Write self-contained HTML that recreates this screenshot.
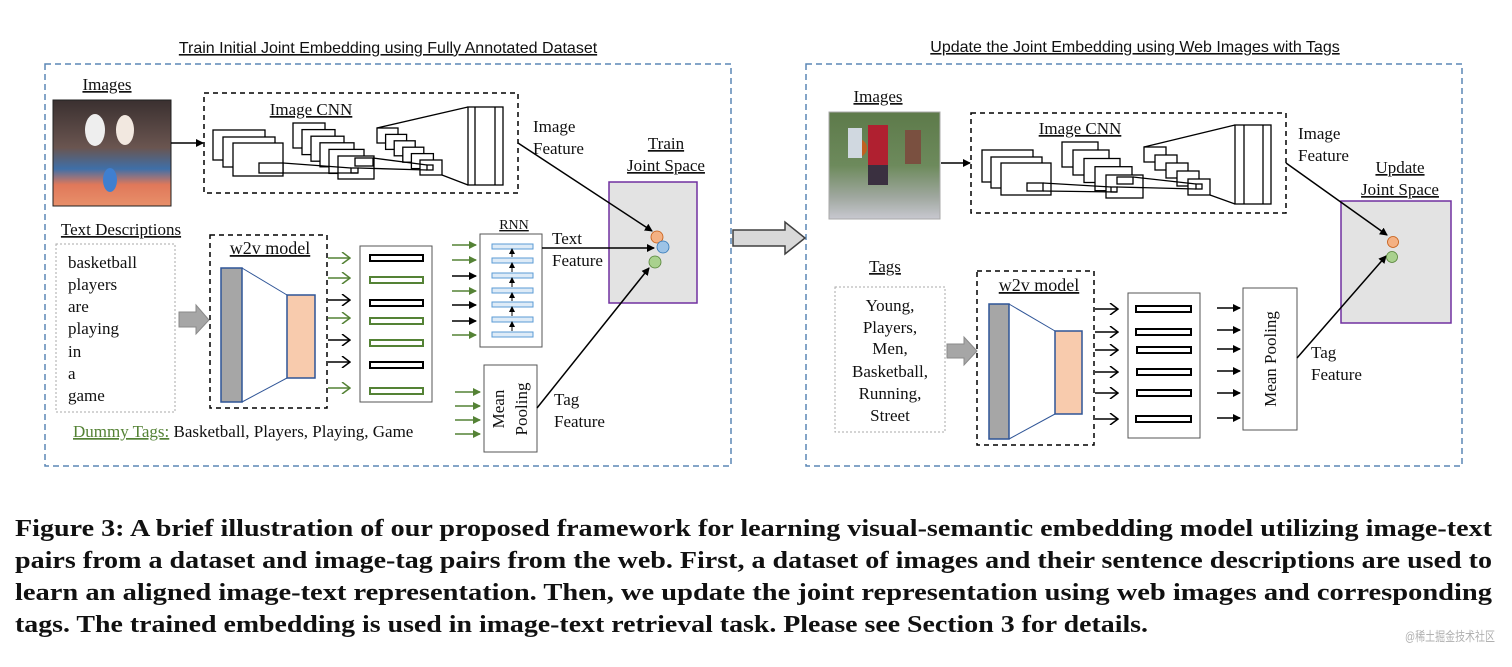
<!DOCTYPE html>
<html><head><meta charset="utf-8"><style>
html,body{margin:0;padding:0;background:#fff;}
svg{display:block}
.s{font-family:"Liberation Serif",serif;fill:#111}
.a{font-family:"Liberation Sans",sans-serif;fill:#111}
</style></head><body>
<svg width="1512" height="667" viewBox="0 0 1512 667" xmlns="http://www.w3.org/2000/svg">
<defs>
<marker id="ab" markerWidth="8" markerHeight="8" refX="7" refY="4" orient="auto" markerUnits="userSpaceOnUse"><path d="M0,0 L8,4 L0,8 z" fill="#000"/></marker>
<marker id="ag" markerWidth="8" markerHeight="8" refX="7" refY="4" orient="auto" markerUnits="userSpaceOnUse"><path d="M0,0 L8,4 L0,8 z" fill="#548235"/></marker>
<marker id="ob" markerWidth="10" markerHeight="12" refX="9" refY="6" orient="auto" markerUnits="userSpaceOnUse"><path d="M1,0 L9,6 L1,12" fill="none" stroke="#000" stroke-width="1.5"/></marker>
<marker id="og" markerWidth="10" markerHeight="12" refX="9" refY="6" orient="auto" markerUnits="userSpaceOnUse"><path d="M1,0 L9,6 L1,12" fill="none" stroke="#548235" stroke-width="1.5"/></marker>
<marker id="sm" markerWidth="6" markerHeight="6" refX="3" refY="3" orient="auto" markerUnits="userSpaceOnUse"><path d="M0,0 L6,3 L0,6 z" fill="#000"/></marker>
<linearGradient id="p1" x1="0" y1="0" x2="0" y2="1"><stop offset="0" stop-color="#3a3030"/><stop offset="0.45" stop-color="#6a5550"/><stop offset="0.65" stop-color="#3f6fa8"/><stop offset="0.8" stop-color="#e0785a"/><stop offset="1" stop-color="#e8906a"/></linearGradient>
<linearGradient id="p2" x1="0" y1="0" x2="0" y2="1"><stop offset="0" stop-color="#5d7a4a"/><stop offset="0.5" stop-color="#6d8a5c"/><stop offset="0.8" stop-color="#a0a8a0"/><stop offset="1" stop-color="#c8c8d0"/></linearGradient>
</defs>

<text class="a" x="388" y="53" font-size="16" text-anchor="middle" text-decoration="underline">Train Initial Joint Embedding using Fully Annotated Dataset</text>
<text class="a" x="1135" y="52" font-size="16" text-anchor="middle" text-decoration="underline">Update the Joint Embedding using Web Images with Tags</text>

<rect x="45" y="64" width="686" height="402" fill="none" stroke="#5b87b5" stroke-width="1.5" stroke-dasharray="6,4"/>
<rect x="806" y="64" width="656" height="402" fill="none" stroke="#5b87b5" stroke-width="1.5" stroke-dasharray="6,4"/>

<!-- joint boxes first so arrows draw over -->
<rect x="609" y="182" width="88" height="121" fill="#e3e3e3" stroke="#7030a0" stroke-width="1.5"/>
<rect x="1341" y="201" width="110" height="122" fill="#e3e3e3" stroke="#7030a0" stroke-width="1.5"/>

<!-- LEFT -->
<text class="s" x="107" y="90" font-size="17" text-anchor="middle" text-decoration="underline">Images</text>
<rect x="53" y="100" width="118" height="106" fill="url(#p1)" stroke="#222"/>
<ellipse cx="95" cy="130" rx="10" ry="16" fill="#eee"/><ellipse cx="125" cy="130" rx="9" ry="15" fill="#f2e8e0"/><ellipse cx="110" cy="180" rx="7" ry="12" fill="#3f7fd0"/>
<line x1="171" y1="143" x2="203" y2="143" stroke="#000" stroke-width="1.5" marker-end="url(#ab)"/>
<rect x="204" y="93" width="314" height="100" fill="none" stroke="#000" stroke-width="1.5" stroke-dasharray="5,4"/>
<text class="s" x="311" y="115" font-size="17" text-anchor="middle" text-decoration="underline">Image CNN</text>
<g fill="#fff" stroke="#000" stroke-width="1.3">
<rect x="213" y="130" width="52" height="30"/><rect x="223" y="137" width="52" height="30"/><rect x="233" y="143" width="50" height="33"/>
<rect x="259" y="163" width="24" height="10"/>
<rect x="293" y="123" width="32" height="25"/><rect x="302" y="129.6" width="33" height="25"/><rect x="311" y="136.2" width="33" height="25"/><rect x="320" y="142.8" width="34" height="24"/><rect x="329" y="149.4" width="35" height="24"/><rect x="338" y="156" width="36" height="23"/>
<rect x="355" y="158" width="18" height="8"/><rect x="351" y="168" width="7" height="5"/>
<rect x="377" y="128" width="21" height="15"/><rect x="385.6" y="134.4" width="21" height="15"/><rect x="394.2" y="140.8" width="21" height="15"/><rect x="402.8" y="147.2" width="21" height="15"/><rect x="411.4" y="153.6" width="22" height="15"/><rect x="420" y="160" width="22" height="15"/>
<rect x="427" y="165" width="6" height="5"/>
<rect x="468" y="107" width="35" height="78"/>
</g>
<g stroke="#000" stroke-width="1.3"><line x1="475" y1="107" x2="475" y2="185"/><line x1="495" y1="107" x2="495" y2="185"/>
<line x1="283" y1="163" x2="351" y2="168"/><line x1="283" y1="173" x2="358" y2="173"/>
<line x1="373" y1="158" x2="427" y2="165"/><line x1="358" y1="168" x2="427" y2="170"/>
<line x1="377" y1="128" x2="468" y2="107"/><line x1="442" y1="175" x2="468" y2="185"/></g>
<text class="s" x="533" y="132" font-size="17">Image</text><text class="s" x="533" y="154" font-size="17">Feature</text>
<line x1="518" y1="143" x2="652" y2="231" stroke="#000" stroke-width="1.5" marker-end="url(#ab)"/>
<text class="s" x="666" y="149" font-size="17" text-anchor="middle" text-decoration="underline">Train</text>
<text class="s" x="666" y="171" font-size="17" text-anchor="middle" text-decoration="underline">Joint Space</text>

<text class="s" x="121" y="235" font-size="17" text-anchor="middle" text-decoration="underline">Text Descriptions</text>
<rect x="56" y="244" width="119" height="168" fill="#fff" stroke="#aaa" stroke-dasharray="2,2"/>
<g class="s" font-size="17"><text x="68" y="268">basketball</text><text x="68" y="290">players</text><text x="68" y="312">are</text><text x="68" y="334">playing</text><text x="68" y="357">in</text><text x="68" y="379">a</text><text x="68" y="401">game</text></g>
<path d="M179,312 L196,312 L196,305 L209,320 L196,334 L196,327 L179,327 z" fill="#a6a6a6" stroke="#8a8a8a"/>
<rect x="210" y="235" width="117" height="173" fill="none" stroke="#000" stroke-width="1.5" stroke-dasharray="5,4"/>
<text class="s" x="270" y="254" font-size="18" text-anchor="middle" text-decoration="underline">w2v model</text>
<line x1="242" y1="268" x2="287" y2="295" stroke="#2f5597"/><line x1="242" y1="402" x2="287" y2="378" stroke="#2f5597"/>
<rect x="221" y="268" width="21" height="134" fill="#a6a6a6" stroke="#2f5597" stroke-width="1.5"/>
<rect x="287" y="295" width="28" height="83" fill="#f8cbad" stroke="#2f5597" stroke-width="1.5"/>
<g stroke-width="1.5">
<line x1="328" y1="258" x2="350" y2="258" stroke="#548235" marker-end="url(#og)"/>
<line x1="328" y1="278" x2="350" y2="278" stroke="#548235" marker-end="url(#og)"/>
<line x1="328" y1="300" x2="350" y2="300" stroke="#000" marker-end="url(#ob)"/>
<line x1="328" y1="318" x2="350" y2="318" stroke="#548235" marker-end="url(#og)"/>
<line x1="328" y1="340" x2="350" y2="340" stroke="#000" marker-end="url(#ob)"/>
<line x1="328" y1="362" x2="350" y2="362" stroke="#000" marker-end="url(#ob)"/>
<line x1="328" y1="388" x2="350" y2="388" stroke="#548235" marker-end="url(#og)"/>
</g>
<rect x="360" y="246" width="72" height="156" fill="#fff" stroke="#555"/>
<g fill="none" stroke-width="2">
<rect x="370" y="255" width="53" height="6" stroke="#000"/><rect x="370" y="277" width="53" height="6" stroke="#548235"/><rect x="370" y="300" width="53" height="6" stroke="#000"/><rect x="370" y="318" width="53" height="6" stroke="#548235"/><rect x="370" y="340" width="53" height="6" stroke="#548235"/><rect x="370" y="362" width="53" height="6" stroke="#000"/><rect x="370" y="388" width="53" height="6" stroke="#548235"/>
</g>
<text class="s" x="514" y="229" font-size="14" text-anchor="middle" text-decoration="underline">RNN</text>
<g stroke-width="1.5">
<line x1="452" y1="245" x2="476" y2="245" stroke="#548235" marker-end="url(#ag)"/>
<line x1="452" y1="260" x2="476" y2="260" stroke="#548235" marker-end="url(#ag)"/>
<line x1="452" y1="276" x2="476" y2="276" stroke="#000" marker-end="url(#ab)"/>
<line x1="452" y1="291" x2="476" y2="291" stroke="#548235" marker-end="url(#ag)"/>
<line x1="452" y1="305" x2="476" y2="305" stroke="#000" marker-end="url(#ab)"/>
<line x1="452" y1="321" x2="476" y2="321" stroke="#000" marker-end="url(#ab)"/>
<line x1="452" y1="335" x2="476" y2="335" stroke="#548235" marker-end="url(#ag)"/>
</g>
<rect x="480" y="234" width="62" height="113" fill="#fff" stroke="#555"/>
<g fill="#deebf7" stroke="#5b9bd5">
<rect x="492" y="244" width="41" height="5"/><rect x="492" y="258" width="41" height="5"/><rect x="492" y="273" width="41" height="5"/><rect x="492" y="288" width="41" height="5"/><rect x="492" y="302" width="41" height="5"/><rect x="492" y="317" width="41" height="5"/><rect x="492" y="332" width="41" height="5"/>
</g>
<g stroke="#000" stroke-width="1" marker-end="url(#sm)">
<line x1="512" y1="257" x2="512" y2="251"/><line x1="512" y1="272" x2="512" y2="265"/><line x1="512" y1="287" x2="512" y2="280"/><line x1="512" y1="301" x2="512" y2="295"/><line x1="512" y1="316" x2="512" y2="309"/><line x1="512" y1="331" x2="512" y2="324"/>
</g>
<line x1="542" y1="248" x2="654" y2="248" stroke="#000" stroke-width="1.5" marker-end="url(#ab)"/>
<text class="s" x="552" y="244" font-size="17">Text</text><text class="s" x="552" y="266" font-size="17">Feature</text>
<g stroke="#548235" stroke-width="1.5">
<line x1="455" y1="392" x2="480" y2="392" marker-end="url(#ag)"/><line x1="455" y1="406" x2="480" y2="406" marker-end="url(#ag)"/><line x1="455" y1="420" x2="480" y2="420" marker-end="url(#ag)"/><line x1="455" y1="434" x2="480" y2="434" marker-end="url(#ag)"/>
</g>
<rect x="484" y="365" width="53" height="87" fill="#fff" stroke="#555"/>
<text class="s" font-size="17" text-anchor="middle" transform="translate(504,409) rotate(-90)">Mean</text>
<text class="s" font-size="17" text-anchor="middle" transform="translate(527,409) rotate(-90)">Pooling</text>
<line x1="537" y1="408" x2="649" y2="268" stroke="#000" stroke-width="1.5" marker-end="url(#ab)"/>
<text class="s" x="554" y="405" font-size="17">Tag</text><text class="s" x="554" y="427" font-size="17">Feature</text>
<text class="s" x="73" y="437" font-size="17"><tspan fill="#548235" text-decoration="underline">Dummy Tags:</tspan> Basketball, Players, Playing, Game</text>
<circle cx="657" cy="237" r="6" fill="#f4b183" stroke="#c55a11" stroke-width="0.8"/>
<circle cx="663" cy="247" r="6" fill="#9dc3e6" stroke="#2e75b6" stroke-width="0.8"/>
<circle cx="655" cy="262" r="6" fill="#a9d18e" stroke="#548235" stroke-width="0.8"/>

<path d="M733,230 L785,230 L785,222 L805,238 L785,254 L785,246 L733,246 z" fill="#d9d9d9" stroke="#404040" stroke-width="1.5"/>

<!-- RIGHT -->
<text class="s" x="878" y="102" font-size="17" text-anchor="middle" text-decoration="underline">Images</text>
<rect x="829" y="112" width="111" height="107" fill="url(#p2)" stroke="#aaa"/>
<rect x="868" y="125" width="20" height="40" fill="#b02030"/><circle cx="858" cy="148" r="9" fill="#c06020"/><rect x="848" y="128" width="14" height="30" fill="#d0d8e0"/><rect x="905" y="130" width="16" height="34" fill="#7a5040"/><rect x="868" y="165" width="20" height="20" fill="#3a3040"/>
<line x1="941" y1="163" x2="970" y2="163" stroke="#000" stroke-width="1.5" marker-end="url(#ab)"/>
<rect x="971" y="113" width="315" height="100" fill="none" stroke="#000" stroke-width="1.5" stroke-dasharray="5,4"/>
<text class="s" x="1080" y="134" font-size="17" text-anchor="middle" text-decoration="underline">Image CNN</text>
<g fill="#fff" stroke="#000" stroke-width="1.3">
<rect x="982" y="150" width="51" height="32"/><rect x="991" y="157" width="51" height="31"/><rect x="1001" y="163" width="50" height="32"/>
<rect x="1027" y="183" width="16" height="8"/>
<rect x="1062" y="142" width="36" height="25"/><rect x="1073" y="150" width="36" height="25"/><rect x="1084" y="158.5" width="36" height="24"/><rect x="1095" y="166.7" width="37" height="24"/><rect x="1106" y="175" width="37" height="23"/>
<rect x="1117" y="177" width="16" height="7"/><rect x="1111" y="187" width="6" height="5"/>
<rect x="1144" y="147" width="22" height="15"/><rect x="1155" y="155" width="22" height="15"/><rect x="1166" y="163" width="22" height="15"/><rect x="1177" y="171" width="22" height="15"/><rect x="1188" y="179" width="22" height="16"/>
<rect x="1196" y="184" width="6" height="5"/>
<rect x="1235" y="125" width="36" height="79"/>
</g>
<g stroke="#000" stroke-width="1.3"><line x1="1244" y1="125" x2="1244" y2="204"/><line x1="1263" y1="125" x2="1263" y2="204"/>
<line x1="1043" y1="183" x2="1111" y2="187"/><line x1="1043" y1="191" x2="1117" y2="192"/>
<line x1="1133" y1="177" x2="1196" y2="184"/><line x1="1117" y1="187" x2="1196" y2="189"/>
<line x1="1144" y1="147" x2="1235" y2="125"/><line x1="1210" y1="195" x2="1235" y2="204"/></g>
<text class="s" x="1298" y="139" font-size="17">Image</text><text class="s" x="1298" y="161" font-size="17">Feature</text>
<line x1="1286" y1="163" x2="1387" y2="235" stroke="#000" stroke-width="1.5" marker-end="url(#ab)"/>
<text class="s" x="1400" y="173" font-size="17" text-anchor="middle" text-decoration="underline">Update</text>
<text class="s" x="1400" y="195" font-size="17" text-anchor="middle" text-decoration="underline">Joint Space</text>
<text class="s" x="885" y="272" font-size="17" text-anchor="middle" text-decoration="underline">Tags</text>
<rect x="835" y="287" width="110" height="145" fill="#fff" stroke="#aaa" stroke-dasharray="2,2"/>
<g class="s" font-size="17" text-anchor="middle"><text x="890" y="311">Young,</text><text x="890" y="333">Players,</text><text x="890" y="354">Men,</text><text x="890" y="377">Basketball,</text><text x="890" y="399">Running,</text><text x="890" y="421">Street</text></g>
<path d="M947,344 L964,344 L964,337 L977,351 L964,365 L964,358 L947,358 z" fill="#a6a6a6" stroke="#8a8a8a"/>
<rect x="977" y="271" width="117" height="174" fill="none" stroke="#000" stroke-width="1.5" stroke-dasharray="5,4"/>
<text class="s" x="1039" y="291" font-size="18" text-anchor="middle" text-decoration="underline">w2v model</text>
<line x1="1009" y1="304" x2="1055" y2="331" stroke="#2f5597"/><line x1="1009" y1="439" x2="1055" y2="414" stroke="#2f5597"/>
<rect x="989" y="304" width="20" height="135" fill="#a6a6a6" stroke="#2f5597" stroke-width="1.5"/>
<rect x="1055" y="331" width="27" height="83" fill="#f8cbad" stroke="#2f5597" stroke-width="1.5"/>
<g stroke="#000" stroke-width="1.5" marker-end="url(#ob)">
<line x1="1095" y1="309" x2="1118" y2="309"/><line x1="1095" y1="332" x2="1118" y2="332"/><line x1="1095" y1="350" x2="1118" y2="350"/><line x1="1095" y1="372" x2="1118" y2="372"/><line x1="1095" y1="393" x2="1118" y2="393"/><line x1="1095" y1="419" x2="1118" y2="419"/>
</g>
<rect x="1128" y="293" width="72" height="145" fill="#fff" stroke="#555"/>
<g fill="none" stroke="#000" stroke-width="2">
<rect x="1136" y="306" width="55" height="6"/><rect x="1136" y="329" width="55" height="6"/><rect x="1137" y="347" width="54" height="6"/><rect x="1137" y="369" width="54" height="6"/><rect x="1137" y="390" width="54" height="6"/><rect x="1136" y="416" width="55" height="6"/>
</g>
<g stroke="#000" stroke-width="1.5" marker-end="url(#ab)">
<line x1="1217" y1="308" x2="1240" y2="308"/><line x1="1217" y1="330" x2="1240" y2="330"/><line x1="1217" y1="349" x2="1240" y2="349"/><line x1="1217" y1="371" x2="1240" y2="371"/><line x1="1217" y1="393" x2="1240" y2="393"/><line x1="1217" y1="418" x2="1240" y2="418"/>
</g>
<rect x="1243" y="288" width="54" height="142" fill="#fff" stroke="#555"/>
<text class="s" font-size="17" text-anchor="middle" transform="translate(1276,359) rotate(-90)">Mean Pooling</text>
<line x1="1297" y1="358" x2="1386" y2="256" stroke="#000" stroke-width="1.5" marker-end="url(#ab)"/>
<text class="s" x="1311" y="358" font-size="17">Tag</text><text class="s" x="1311" y="380" font-size="17">Feature</text>
<circle cx="1393" cy="242" r="5.5" fill="#f4b183" stroke="#c55a11" stroke-width="0.8"/>
<circle cx="1392" cy="257" r="5.5" fill="#a9d18e" stroke="#548235" stroke-width="0.8"/>

<g class="s" font-size="24" font-weight="bold" fill="#111">
<text x="15" y="536" textLength="1477" lengthAdjust="spacingAndGlyphs">Figure 3: A brief illustration of our proposed framework for learning visual-semantic embedding model utilizing image-text</text>
<text x="15" y="568" textLength="1477" lengthAdjust="spacingAndGlyphs">pairs from a dataset and image-tag pairs from the web. First, a dataset of images and their sentence descriptions are used to</text>
<text x="15" y="600" textLength="1477" lengthAdjust="spacingAndGlyphs">learn an aligned image-text representation. Then, we update the joint representation using web images and corresponding</text>
<text x="15" y="632" textLength="1133" lengthAdjust="spacingAndGlyphs">tags. The trained embedding is used in image-text retrieval task. Please see Section 3 for details.</text>
</g>
<text x="1405" y="641" font-size="13" fill="#b0b0b0" textLength="90" lengthAdjust="spacingAndGlyphs" font-family="'Liberation Sans','Noto Sans CJK SC',sans-serif">@稀土掘金技术社区</text>
</svg>
</body></html>
